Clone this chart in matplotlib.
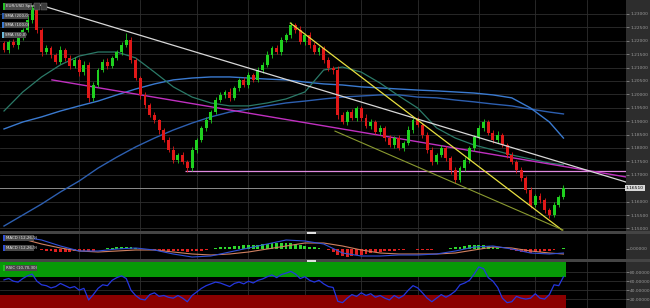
import matplotlib
matplotlib.use('Agg')
import matplotlib.pyplot as plt
from matplotlib.patches import Rectangle
import numpy as np

# ---------------- data ----------------
open0 = 1.2190
closes = [1.2166,1.2195,1.2184,1.2210,1.2240,1.2277,1.2322,1.2240,1.2158,1.2173,
          1.2147,1.2121,1.2166,1.2136,1.2106,1.2128,1.2083,1.2110,1.1987,1.2035,
          1.2091,1.2121,1.2106,1.2136,1.2158,1.2184,1.2203,1.2128,1.2061,1.1998,
          1.1960,1.1923,1.1904,1.1867,1.1830,1.1793,1.1755,1.1774,1.1748,1.1725,
          1.1793,1.1830,1.1875,1.1904,1.1934,1.1979,1.1998,1.2009,1.1987,1.2024,
          1.2054,1.2035,1.2072,1.2054,1.2091,1.2110,1.2147,1.2173,1.2158,1.2203,
          1.2221,1.2259,1.2240,1.2195,1.2221,1.2184,1.2158,1.2173,1.2128,1.2098,
          1.2091,1.1923,1.1897,1.1934,1.1912,1.1949,1.1912,1.1882,1.1897,1.1860,
          1.1875,1.1837,1.1811,1.1837,1.1800,1.1819,1.1867,1.1904,1.1886,1.1848,
          1.1793,1.1748,1.1774,1.1800,1.1763,1.1718,1.1681,1.1725,1.1755,1.1800,
          1.1841,1.1875,1.1897,1.1856,1.1830,1.1848,1.1811,1.1774,1.1748,1.1718,
          1.1688,1.1643,1.1587,1.1621,1.1606,1.1569,1.1550,1.1587,1.1617,1.1651]
wick_up_pips = [10,8,12,6,9,14,11,18,7,12, 9,6,15,8,10,12,7,14,9,11,
                6,10,13,8,9,12,26,10,7,9, 12,8,10,6,9,11,14,8,10,7,
                12,9,6,11,8,13,10,7,15,9, 8,12,10,6,11,9,14,8,10,12,
                7,12,9,16,8,10,13,7,9,11, 6,14,10,8,12,9,7,15,10,8,
                11,6,12,9,10,8,14,7,11,9, 10,12,8,13,6,9,10,7,11,8,
                9,12,12,8,10,14,7,9,11,8, 12,6,10,9,13,8,7,11,9,10]
wick_dn_pips = [9,11,7,13,8,6,10,12,15,8, 11,9,7,12,10,8,13,9,16,10,
                8,7,11,9,6,10,8,12,9,14, 10,8,11,13,9,7,12,10,8,14,
                9,11,7,10,12,8,9,13,10,7, 11,8,12,9,7,10,8,11,9,13,
                8,10,12,7,9,11,8,10,12,9, 14,16,9,11,8,12,10,9,13,8,
                10,12,9,11,8,10,7,12,9,11, 13,10,8,9,11,14,10,8,9,12,
                10,8,11,9,12,10,8,11,9,13, 10,12,9,8,11,12,10,9,8,7]

# moving averages, sampled every 4th bar
sma50 = [1.1938,1.2009,1.2065,1.2110,1.2143,1.2158,1.2158,1.2136,1.2083,1.2028,
         1.1990,1.1968,1.1957,1.1957,1.1968,1.1983,1.2009,1.2091,1.2102,1.2083,
         1.2042,1.1994,1.1949,1.1875,1.1837,1.1811,1.1793,1.1774,1.1759,1.1744,1.1737]
sma100 = [1.1871,1.1897,1.1916,1.1938,1.1957,1.1975,1.1998,1.2020,1.2039,1.2054,
          1.2061,1.2065,1.2065,1.2061,1.2057,1.2054,1.2046,1.2039,1.2035,1.2028,
          1.2024,1.2020,1.2016,1.2013,1.2009,1.2005,1.1998,1.1987,1.1949,1.1897,1.1837]
sma200 = [1.1509,1.1550,1.1591,1.1636,1.1677,1.1725,1.1766,1.1804,1.1837,1.1867,
          1.1893,1.1916,1.1934,1.1945,1.1957,1.1968,1.1975,1.1983,1.1990,1.1994,
          1.1998,1.1998,1.1990,1.1987,1.1979,1.1972,1.1964,1.1957,1.1945,1.1934,1.1927]

# MACD (units of 0.0001), sampled every 4th bar
macd_line = [65,60,45,15,-10,-10,0,5,-5,-25,-40,-35,-15,5,25,45,40,25,-20,-35,
             -35,-30,-30,-25,-10,10,15,0,-20,-25,-20]
signal_line = [60,50,25,5,-10,-15,-10,-5,-5,-15,-25,-30,-25,-15,0,15,30,30,15,-5,
               -20,-25,-25,-25,-20,-5,10,5,-10,-20,-25]
macd_hist = [5,6,8,10, 10,9,6,2, -4,-8,-12,-14, -15,-14,-14,-12, -10,-8,-10,-8,
             -2,2,4,5, 8,10,12,10, 6,2,-2,-4, -6,-8,-10,-10, -10,-12,-12,-14,
             -12,-10,-8,-5, 0,5,8,10, 12,14,16,18, 20,20,22,24, 26,28,30,30,
             30,28,24,20, 16,12,8,5, 0,-5,-15,-28, -35,-38,-36,-32, -28,-24,-20,-16,
             -14,-12,-10,-8, -6,-4,-2,-2, -4,-5,-6,-4, -2,0,2,4, 8,12,16,18,
             20,20,18,14, 10,6,2,-2, -6,-10,-14,-16, -18,-16,-14,-12, -8,-4,2,6]

rsi = [63,66,60,58,66,72,76,60,52,50, 45,48,55,50,45,48,40,44,18,30,
       44,52,50,62,68,72,66,40,28,20, 18,30,34,26,28,24,22,28,22,14,
       28,36,44,50,54,58,56,52,48,55, 58,54,60,56,62,65,70,74,68,75,
       78,82,76,66,70,62,58,62,54,48, 46,15,12,22,30,26,34,28,32,24,
       28,22,18,28,22,28,40,50,45,34, 22,14,22,30,24,30,38,52,56,62,
       76,92,88,68,60,46,22,12,14,26, 22,20,22,32,22,20,30,52,50,70]

# trend lines (bar index, price)
white_x, white_y = [7.7, 132.3], [1.2333, 1.1673]
magenta_x, magenta_y = [10.2, 132.3], [1.2054, 1.1692]
yellow_x, yellow_y = [60.9, 118.7], [1.2266, 1.1494]
olive_x, olive_y = [70.4, 118.9], [1.1863, 1.1494]
pink_start, pink_level = 38.5, 1.1714

price_ticks = [1.150 + 0.005 * k for k in range(17)]
rsi_ticks = [20, 40, 60, 80]
vgrid = [16, 29, 41, 52, 64, 76, 88, 101, 113, 124]

# ---------------- figure ----------------
W, H = 650, 308
fig = plt.figure(figsize=(6.5, 3.08), dpi=100, facecolor='#2d2d2d')

def fy(px):
    return 1 - px / H

PR = 626
XL = (-0.85, 132.3)
ax = fig.add_axes([0, fy(231), PR / W, fy(0) - fy(231)], facecolor='black')
axm = fig.add_axes([0, fy(259), PR / W, fy(234) - fy(259)], facecolor='black')
axr = fig.add_axes([0, fy(308), PR / W, fy(262) - fy(308)], facecolor='black')

# separator bands
for y0, y1 in [(231, 234), (259, 262)]:
    fig.add_artist(Rectangle((0, fy(y1)), 1, (y1 - y0) / H, transform=fig.transFigure,
                             facecolor='#444444', edgecolor='none', zorder=-1))

grid_c = '#2e2e2e'
tick_c = '#9a9a9a'
FS = 3.2

for a in (ax, axm, axr):
    a.set_xlim(*XL)
    a.set_xticks([])
    for s in a.spines.values():
        s.set_visible(False)
    a.yaxis.tick_right()
    a.tick_params(axis='y', direction='out', length=2, width=0.5, pad=1,
                  labelsize=FS, colors=tick_c)
    for v in vgrid:
        a.axvline(v, color=grid_c, lw=0.6, zorder=0)

# ---- main price panel ----
n = len(closes)
idx = np.arange(n)
opens = np.array([open0] + closes[:-1])
cl = np.array(closes)

ax.set_ylim(1.14904, 1.2352)
ax.set_yticks(price_ticks)
# the tick nearest the live price is covered by the price tag
ax.set_yticklabels(['' if abs(t - cl[-1]) < 0.002 else '%.5f' % t for t in price_ticks])
for t in price_ticks:
    ax.axhline(t, color=grid_c, lw=0.6, zorder=0)

hi = np.maximum(opens, cl) + np.array(wick_up_pips) * 1e-4
lo = np.minimum(opens, cl) - np.array(wick_dn_pips) * 1e-4
up = cl >= opens
cols = np.where(up, '#1fd11f', '#e01818')
ax.vlines(idx, lo, hi, colors=cols, lw=0.6, zorder=3)
body_lo = np.minimum(opens, cl)
body_h = np.maximum(np.abs(cl - opens), 0.0003)
ax.bar(idx, body_h, bottom=body_lo, width=0.62, color=cols, edgecolor='none', zorder=4)

sidx = list(range(0, n, 4)) + [n - 1]
ax.plot(sidx, sma200, color='#2d5fb0', lw=1.0, zorder=2)
ax.plot(sidx, sma100, color='#3a7ad0', lw=1.0, zorder=2)
ax.plot(sidx, sma50, color='#2b7a68', lw=0.9, zorder=2)

ax.axhline(cl[-1], color='#8c8c8c', lw=0.7, zorder=1)
ax.hlines(pink_level, pink_start, XL[1], color='#e08ae0', lw=0.9, zorder=2)
ax.plot(magenta_x, magenta_y, color='#c030c0', lw=1.0, zorder=2)
ax.plot(white_x, white_y, color='#d8d8d8', lw=0.9, zorder=5)
ax.plot(yellow_x, yellow_y, color='#e8e040', lw=0.9, zorder=5)
ax.plot(olive_x, olive_y, color='#8a9a30', lw=0.8, zorder=5)

ax.text(1.0, cl[-1], '%.5f' % cl[-1], transform=ax.get_yaxis_transform(),
        ha='left', va='center', fontsize=FS, color='black', clip_on=False, zorder=10,
        bbox=dict(boxstyle='square,pad=0.3', fc='#d8d8d8', ec='none'))

# ---- MACD panel ----
axm.set_ylim(-50, 75)
axm.set_yticks([0])
axm.set_yticklabels(['0.00000'])
hist = np.array(macd_hist)
axm.bar(idx, hist, width=0.6, color=np.where(hist >= 0, '#2ed82e', '#e02020'),
        edgecolor='none', zorder=2)
axm.plot(sidx, signal_line, color='#d08060', lw=0.8, zorder=3)
axm.plot(sidx, macd_line, color='#3050d8', lw=0.8, zorder=3)

# ---- RSI panel ----
axr.set_ylim(0, 103)
axr.set_yticks(rsi_ticks)
axr.set_yticklabels(['%.5f' % t for t in rsi_ticks])
for t in rsi_ticks:
    axr.axhline(t, color=grid_c, lw=0.6, zorder=0)
axr.axhspan(70, 103, xmin=0, xmax=(n - 0.5 - XL[0]) / (XL[1] - XL[0]),
            color='#079a07', zorder=1, lw=0)
axr.axhspan(0, 30, xmin=0, xmax=(n - 0.5 - XL[0]) / (XL[1] - XL[0]),
            color='#8a0000', zorder=1, lw=0)
axr.plot(idx, rsi, color='#2436e0', lw=0.9, zorder=3)

# ---- legend labels ----
def label(x, y, w, h, txt, stripe):
    fig.add_artist(Rectangle((x / W, fy(y + h)), w / W, h / H, transform=fig.transFigure,
                             facecolor='#4a4a4a', edgecolor='none', zorder=20))
    fig.add_artist(Rectangle((x / W, fy(y + h)), 1.5 / W, h / H, transform=fig.transFigure,
                             facecolor=stripe, edgecolor='none', zorder=21))
    fig.text((x + 3) / W, fy(y + h / 2), txt, fontsize=2.9, color='#e8e8e8',
             ha='left', va='center', zorder=22)

label(3, 3, 29, 7, 'EUR/USD Spot', '#22c022')
for bx in (34, 41):
    fig.add_artist(Rectangle((bx / W, fy(10)), 6 / W, 7 / H, transform=fig.transFigure,
                             facecolor='#3c3c3c', edgecolor='#777777', lw=0.3, zorder=20))
label(2, 13, 26, 6, 'SMA (200,0)', '#2d5fb0')
label(2, 22, 26, 6, 'SMA (100,0)', '#3a7ad0')
label(2, 32, 24, 6, 'SMA (50,0)', '#6ab8d8')
label(3, 235, 31, 6, 'MACD (12,26,9)', '#3050d8')
label(3, 245, 31, 6, 'MACD (12,26,9)', '#3050d8')
label(3, 265, 34, 6, 'RSIC (10,70,30)', '#22c022')

for yy in (231.5, 259.5):
    fig.add_artist(Rectangle((307 / W, fy(yy + 2)), 9 / W, 2 / H, transform=fig.transFigure,
                             facecolor='#e0e0e0', edgecolor='none', zorder=20))

fig.savefig('out.png', dpi=100, facecolor=fig.get_facecolor())
